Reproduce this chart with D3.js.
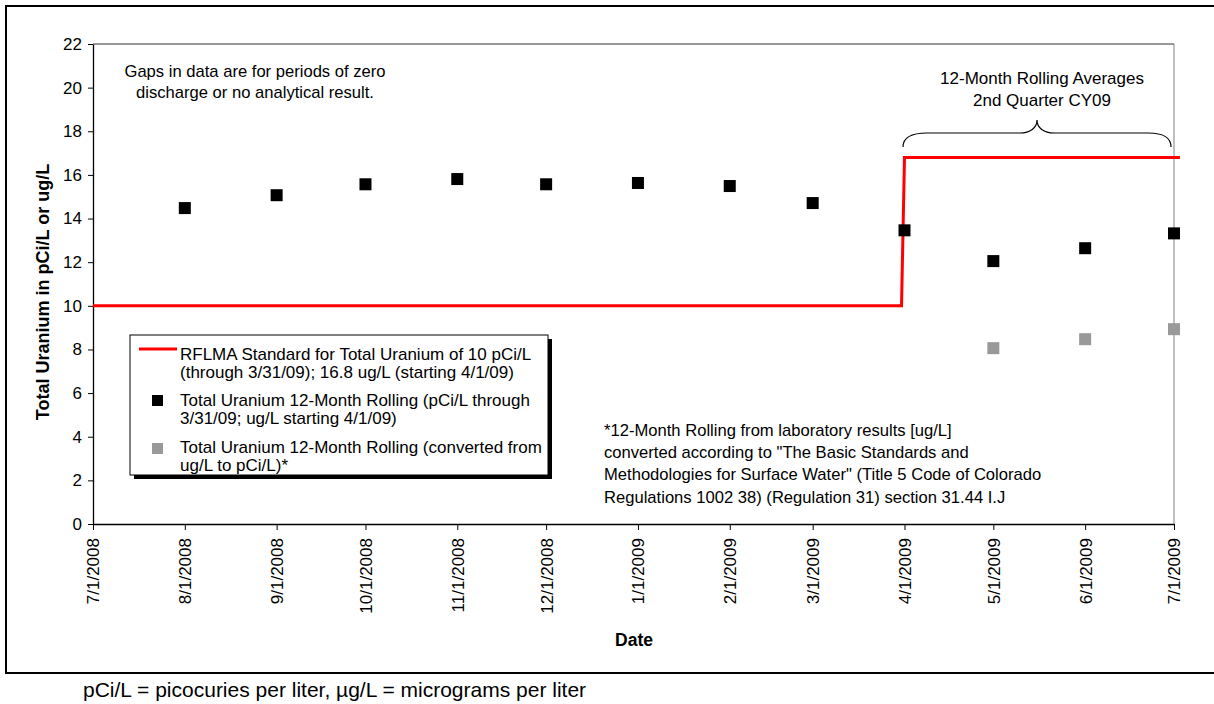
<!DOCTYPE html>
<html>
<head>
<meta charset="utf-8">
<script src="https://cdn.jsdelivr.net/npm/d3@7"></script>
<style>
  html, body { margin: 0; padding: 0; background: #fff; }
  svg { display: block; font-family: "Liberation Sans", Arial, sans-serif; }
</style>
</head>
<body>
<svg id="chart" width="1214" height="704"></svg>
<script>
// Monthly sample dates and 12-month rolling averages
const sampleDates = ["2008-08-01", "2008-09-01", "2008-10-01", "2008-11-01", "2008-12-01",
  "2009-01-01", "2009-02-01", "2009-03-01", "2009-04-01", "2009-05-01", "2009-06-01", "2009-07-01"];
const rollingValues = [14.48, 15.07, 15.57, 15.81, 15.57, 15.63, 15.49, 14.71, 13.46, 12.05, 12.64, 13.32];

// Rolling averages converted from ug/L to pCi/L
const convertedDates = ["2009-05-01", "2009-06-01", "2009-07-01"];
const convertedValues = [8.06, 8.47, 8.93];

// RFLMA standard step: 10 pCi/L through 3/31/09, 16.8 ug/L from 4/1/09
const standardDates = ["2008-07-01", "2009-03-31", "2009-04-01", "2009-07-03"];
const standardValues = [10, 10, 16.8, 16.8];

// Axis ticks
const yTicks = [0, 2, 4, 6, 8, 10, 12, 14, 16, 18, 20, 22];
const xTickDates = ["2008-07-01", "2008-08-01", "2008-09-01", "2008-10-01", "2008-11-01", "2008-12-01",
  "2009-01-01", "2009-02-01", "2009-03-01", "2009-04-01", "2009-05-01", "2009-06-01", "2009-07-01"];

const legendLabels = [
  ["RFLMA Standard for Total Uranium of 10 pCi/L", "(through 3/31/09); 16.8 ug/L (starting 4/1/09)"],
  ["Total Uranium 12-Month Rolling (pCi/L through", "3/31/09; ug/L starting 4/1/09)"],
  ["Total Uranium 12-Month Rolling (converted from", "ug/L to pCi/L)*"]
];
const gapNote = ["Gaps in data are for periods of zero", "discharge or no analytical result."];
const periodNote = ["12-Month Rolling Averages", "2nd Quarter CY09"];
const conversionNote = [
  "*12-Month Rolling from laboratory results [ug/L]",
  "converted according to \"The Basic Standards and",
  "Methodologies for Surface Water\" (Title 5 Code of Colorado",
  "Regulations 1002 38) (Regulation 31) section 31.44 I.J"
];
const unitsNote = "pCi/L = picocuries per liter, \u00b5g/L = micrograms per liter";

const parse = d3.utcParse("%Y-%m-%d");
const fmt = d3.utcFormat("%-m/%-d/%Y");

const svg = d3.select("#chart");
const plot = { left: 93, right: 1174, top: 44, bottom: 524 };

const x = d3.scaleUtc()
  .domain([parse("2008-07-01"), parse("2009-07-01")])
  .range([plot.left, plot.right]);
const y = d3.scaleLinear().domain([0, 22]).range([plot.bottom, plot.top]);

// Outer chart frame
svg.append("rect")
  .attr("x", 6).attr("y", 6).attr("width", 1230).attr("height", 667)
  .attr("fill", "#fff").attr("stroke", "#000").attr("stroke-width", 2);

// Plot area frame (top and right edges)
svg.append("line").attr("x1", plot.left).attr("x2", plot.right)
  .attr("y1", plot.top).attr("y2", plot.top).attr("stroke", "#333").attr("stroke-width", 1);
svg.append("line").attr("x1", plot.right).attr("x2", plot.right)
  .attr("y1", plot.top).attr("y2", plot.bottom).attr("stroke", "#808080").attr("stroke-width", 1);

// Y axis
const yAxis = svg.append("g")
  .attr("transform", `translate(${plot.left},0)`)
  .call(d3.axisLeft(y).tickValues(yTicks).tickSize(5).tickPadding(6).tickSizeOuter(0));
yAxis.select(".domain").attr("stroke", "#000").attr("stroke-width", 1.3);
yAxis.selectAll(".tick line").attr("stroke", "#000");
yAxis.selectAll(".tick text")
  .attr("font-size", 17).attr("fill", "#000")
  .attr("font-family", "Liberation Sans, Arial, sans-serif");

// X axis
const xAxis = svg.append("g")
  .attr("transform", `translate(0,${plot.bottom})`)
  .call(d3.axisBottom(x).tickValues(xTickDates.map(parse)).tickFormat(fmt).tickSize(6).tickSizeOuter(0));
xAxis.select(".domain").attr("stroke", "#000").attr("stroke-width", 1.3);
xAxis.selectAll(".tick line").attr("stroke", "#000");
xAxis.selectAll(".tick text")
  .attr("font-size", 17).attr("fill", "#000")
  .attr("font-family", "Liberation Sans, Arial, sans-serif")
  .attr("text-anchor", "end")
  .attr("transform", "rotate(-90)")
  .attr("x", -14).attr("y", 0).attr("dy", "0.35em");

// Axis titles
svg.append("text")
  .attr("transform", "translate(49,292) rotate(-90)")
  .attr("text-anchor", "middle").attr("font-weight", "bold").attr("font-size", 18)
  .text("Total Uranium in pCi/L or ug/L");
svg.append("text")
  .attr("x", 634).attr("y", 646)
  .attr("text-anchor", "middle").attr("font-weight", "bold").attr("font-size", 17.5)
  .text("Date");

// Standard step line
const standard = standardDates.map((d, i) => ({ date: parse(d), value: standardValues[i] }));
svg.append("path")
  .datum(standard)
  .attr("fill", "none").attr("stroke", "#ff0000").attr("stroke-width", 3)
  .attr("d", d3.line().x(d => x(d.date)).y(d => y(d.value)));

// Marker squares
const sq = 12;
const rolling = sampleDates.map((d, i) => ({ date: parse(d), value: rollingValues[i] }));
svg.append("g").selectAll("rect").data(rolling).join("rect")
  .attr("x", d => x(d.date) - sq / 2).attr("y", d => y(d.value) - sq / 2)
  .attr("width", sq).attr("height", sq).attr("fill", "#000");

const converted = convertedDates.map((d, i) => ({ date: parse(d), value: convertedValues[i] }));
svg.append("g").selectAll("rect").data(converted).join("rect")
  .attr("x", d => x(d.date) - sq / 2).attr("y", d => y(d.value) - sq / 2)
  .attr("width", sq).attr("height", sq).attr("fill", "#999999");

// Legend with drop shadow
const lg = svg.append("g").attr("transform", "translate(130,335)");
lg.append("rect").attr("x", 4).attr("y", 4).attr("width", 418).attr("height", 140).attr("fill", "#000");
lg.append("rect").attr("x", 0).attr("y", 0).attr("width", 418).attr("height", 140)
  .attr("fill", "#fff").attr("stroke", "#000").attr("stroke-width", 1);
const rowTop = [19, 65, 112];
legendLabels.forEach((lines, i) => {
  const t = lg.append("text").attr("font-size", 17).attr("fill", "#000");
  lines.forEach((line, j) => {
    t.append("tspan").attr("x", 50).attr("y", rowTop[i] + j * 18.5).attr("dy", "0.35em").text(line);
  });
});
lg.append("line").attr("x1", 9).attr("x2", 47).attr("y1", 14).attr("y2", 14)
  .attr("stroke", "#ff0000").attr("stroke-width", 3);
lg.append("rect").attr("x", 22).attr("y", 60).attr("width", 11).attr("height", 11).attr("fill", "#000");
lg.append("rect").attr("x", 22).attr("y", 108).attr("width", 11).attr("height", 11).attr("fill", "#999999");

// Notes
const gap = svg.append("text").attr("font-size", 16.6).attr("text-anchor", "middle");
gapNote.forEach((line, j) => gap.append("tspan").attr("x", 255).attr("y", 71 + j * 21).attr("dy", "0.35em").text(line));

const period = svg.append("text").attr("font-size", 17).attr("text-anchor", "middle");
periodNote.forEach((line, j) => period.append("tspan").attr("x", 1042).attr("y", 78 + j * 22).attr("dy", "0.35em").text(line));

// Curly brace spanning the 2nd-quarter period
svg.append("path")
  .attr("d", "M903,147 C903,138 910,133 927,133 L1020,133 C1030,133 1037,128 1037,120 C1037,128 1044,133 1054,133 L1148,133 C1165,133 1171,138 1171,147")
  .attr("fill", "none").attr("stroke", "#000").attr("stroke-width", 1.2);

const conv = svg.append("text").attr("font-size", 16.6);
conversionNote.forEach((line, j) => conv.append("tspan").attr("x", 604).attr("y", 430 + j * 22.3).attr("dy", "0.35em").text(line));

svg.append("text").attr("x", 83).attr("y", 697).attr("font-size", 21).text(unitsNote);
</script>
</body>
</html>
